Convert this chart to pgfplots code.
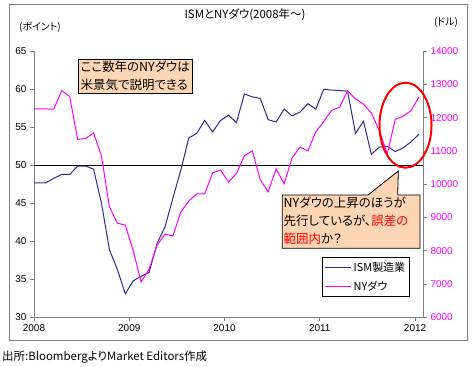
\documentclass[border=0pt]{standalone}
\usepackage{fontspec}
\setmainfont{Liberation Sans}
\newfontfamily\jp[RawFeature=+palt]{Noto Sans CJK JP}
\usepackage{pgfplots}
\pgfplotsset{compat=1.18}
\definecolor{ismblue}{RGB}{45,45,140}
\definecolor{dowmag}{RGB}{255,0,255}
\definecolor{peach}{RGB}{252,213,181}
\definecolor{framegray}{RGB}{128,128,128}
\begin{document}
\begin{tikzpicture}[x=1bp,y=1bp]
\path[use as bounding box] (0,0) rectangle (474,-366);
\fill[white] (0,0) rectangle (474,-366);
\draw[framegray, line width=0.8bp] (9,-4) rectangle (467,-340);
\begin{axis}[
  at={(34bp,-317.3bp)}, anchor=south west,
  scale only axis, width=389bp, height=266bp,
  xmin=0, xmax=49, ymin=30, ymax=65,
  axis x line*=bottom, axis y line*=left,
  axis line style={framegray, line width=0.8bp},
  xtick={0,12,24,36,48}, xticklabels={2008,2009,2010,2011,2012},
  ytick={30,35,...,65},
  tick align=outside, major tick length=4bp,
  tick style={framegray, line width=0.8bp},
  tick label style={font=\fontsize{10}{12}\selectfont, black},
  /pgf/number format/assume math mode=true,
]
\addplot[black, line width=1.2bp] coordinates {(0,50) (49,50)};
\addplot[ismblue, line width=1bp, no marks] table {
x y
0 47.7
0.5 47.7
1.5 47.7
2.5 48.3
3.5 48.8
4.5 48.8
5.5 49.9
6.5 49.9
7.5 49.5
8.5 45.0
9.5 38.9
10.5 36.3
11.5 33.1
12.5 34.8
13.5 35.4
14.5 35.9
15.5 39.7
16.5 41.9
17.5 45.7
18.5 49.4
19.5 53.6
20.5 54.2
21.5 55.9
22.5 54.4
23.5 55.9
24.5 56.6
25.5 55.6
26.5 59.4
27.5 59.0
28.5 58.8
29.5 56.0
30.5 55.7
31.5 57.4
32.5 56.5
33.5 57.0
34.5 58.1
35.5 57.4
36.5 60.0
37.5 59.9
38.5 59.85
39.5 59.75
40.5 54.2
41.5 55.8
42.5 51.45
43.5 52.4
44.5 52.5
45.5 51.8
46.5 52.3
47.5 53.1
48.5 54.1
};
\end{axis}
\begin{axis}[
  at={(34bp,-317.3bp)}, anchor=south west,
  scale only axis, width=389bp, height=266bp,
  xmin=0, xmax=49, ymin=6000, ymax=14000,
  axis x line=none, axis y line*=right,
  axis line style={framegray, line width=0.8bp},
  ytick={6000,7000,...,14000},
  scaled y ticks=false,
  /pgf/number format/1000 sep={},
  tick align=outside, major tick length=4bp,
  tick style={framegray, line width=0.8bp},
  tick label style={font=\fontsize{10}{12}\selectfont, dowmag},
  /pgf/number format/assume math mode=true,
  legend style={at={(0.741,0.228)}, anchor=north west, draw=black, line width=0.8bp,
    fill=white, font=\jp\fontsize{11}{13}\selectfont, inner xsep=2bp, inner ysep=3bp,
    row sep=4bp, cells={anchor=west}},
  legend image code/.code={\draw[#1] (0bp,0bp) -- (26bp,0bp);},
]
\addlegendimage{ismblue, line width=1bp}
\addlegendentry{ISM製造業}
\addplot[dowmag, line width=1bp, no marks] table {
x y
0 12270
0.5 12270
1.5 12266
2.5 12263
3.5 12820
4.5 12638
5.5 11350
6.5 11378
7.5 11544
8.5 10851
9.5 9325
10.5 8829
11.5 8776
12.5 8001
13.5 7063
14.5 7450
15.5 8168
16.5 8500
17.5 8447
18.5 9172
19.5 9496
20.5 9712
21.5 9713
22.5 10345
23.5 10428
24.5 10067
25.5 10325
26.5 10857
27.5 11009
28.5 10137
29.5 9774
30.5 10466
31.5 10015
32.5 10788
33.5 11118
34.5 11006
35.5 11578
36.5 11892
37.5 12226
38.5 12320
39.5 12811
40.5 12570
41.5 12414
42.5 12143
43.5 11614
44.5 10913
45.5 11955
46.5 12046
47.5 12218
48.5 12633
};
\addlegendentry{NYダウ}
\end{axis}
% annotations
\draw[red, line width=2bp] (405.5,-125.2) ellipse [x radius=26, y radius=42.5];
\draw[black, line width=0.8bp, fill=peach] (78.3,-59.3) rectangle (192.7,-93.3);
\node[anchor=north west, inner sep=0, align=left, font=\jp\fontsize{12.5}{18}\selectfont] at (80.5,-60.5) {ここ数年のNYダウは\\米景気で説明できる};
\draw[black, line width=0.8bp, fill=peach] (282.3,-195) -- (368,-195) -- (398.3,-171) -- (397.7,-195) -- (420,-195) -- (420,-248.3) -- (282.3,-248.3) -- cycle;
\node[anchor=north west, inner sep=0, align=left, font=\jp\fontsize{12.5}{18}\selectfont] at (283.5,-196.5) {NYダウの上昇のほうが\\先行しているが、\textcolor{red}{誤差の}\\\textcolor{red}{範囲内}か？};
\node[font=\jp\fontsize{11.5}{13}\selectfont] at (245,-15) {ISMとNYダウ(2008年～)};
\node[font=\jp\fontsize{10}{12}\selectfont] at (40,-27) {(ポイント)};
\node[font=\jp\fontsize{10}{12}\selectfont] at (446,-22.5) {(ドル)};
\node[anchor=west, inner sep=0, font=\jp\fontsize{11.5}{13}\selectfont] at (2,-357) {出所:BloombergよりMarket Editors作成};
\end{tikzpicture}
\end{document}
